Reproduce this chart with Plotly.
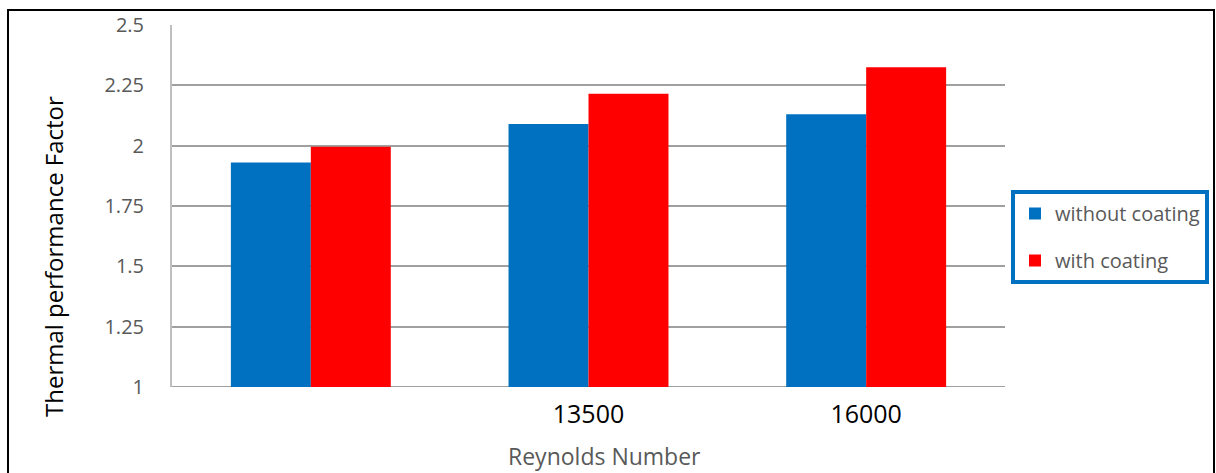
import plotly.graph_objects as go

# Reynolds number categories (first tick label is blank on the axis)
reynolds_labels = ["", "13500", "16000"]
without_coating = [1.93, 2.09, 2.13]
with_coating = [1.995, 2.215, 2.325]

x_pos = list(range(len(reynolds_labels)))

W, H = 1216, 473
L, R, T, B = 172, 211, 25, 86
pw, ph = W - L - R, H - T - B

def px_x(p):
    return (p - L) / pw

def px_y(p):
    return (H - B - p) / ph

FONT = "Open Sans, Liberation Sans, sans-serif"

fig = go.Figure()
fig.add_trace(go.Bar(x=x_pos, y=[v - 1 for v in without_coating], base=1,
                     name="without coating", legendgroup="g1",
                     marker_color="#0070C0", marker_line_width=0))
fig.add_trace(go.Bar(x=x_pos, y=[v - 1 for v in with_coating], base=1,
                     name="with coating", legendgroup="g2",
                     marker_color="#FF0000", marker_line_width=0))

fig.update_layout(
    width=W, height=H,
    margin=dict(l=L, r=R, t=T, b=B, autoexpand=False),
    paper_bgcolor="white", plot_bgcolor="white",
    barmode="group", bargap=0.424, bargroupgap=0,
    font=dict(family=FONT),
    legend=dict(
        x=px_x(1011), y=px_y(190), xanchor="left", yanchor="top",
        bordercolor="#0070C0", borderwidth=4,
        font=dict(size=20, color="#595959"),
        tracegroupgap=18, itemwidth=30,
    ),
    xaxis=dict(
        range=[-0.5, 2.5], tickmode="array", tickvals=x_pos,
        ticktext=reynolds_labels, showgrid=False, zeroline=False,
        showline=False, ticks="",
        tickfont=dict(size=25, color="black"),
        ticklabelstandoff=10,
    ),
    yaxis=dict(
        range=[1, 2.5], tickvals=[1, 1.25, 1.5, 1.75, 2, 2.25, 2.5],
        ticktext=["1", "1.25", "1.5", "1.75", "2", "2.25", "2.5"],
        showgrid=True, gridcolor="#A0A0A0", gridwidth=2,
        zeroline=False, showline=True, linecolor="#BFBFBF", linewidth=2,
        ticks="", tickfont=dict(size=20, color="#595959"),
        ticklabelstandoff=22,
    ),
    annotations=[
        dict(text="Reynolds Number", xref="paper", yref="paper",
             x=px_x(604), y=px_y(456), xanchor="center", yanchor="middle",
             showarrow=False, font=dict(size=23, color="#595959")),
        dict(text="Thermal performance Factor", xref="paper", yref="paper",
             x=px_x(53), y=px_y(257), xanchor="center", yanchor="middle",
             textangle=-90, showarrow=False,
             font=dict(size=24, color="black")),
    ],
    shapes=[
        # baseline along the bottom of the plot
        dict(type="line", xref="paper", yref="y", x0=0, x1=1, y0=1, y1=1,
             line=dict(color="#A0A0A0", width=2), layer="below"),
        # frame around the whole figure
        dict(type="rect", xref="paper", yref="paper",
             x0=px_x(8), x1=px_x(1214), y0=px_y(490), y1=px_y(10),
             line=dict(color="black", width=2)),
    ],
)

fig.write_html("out.html")
